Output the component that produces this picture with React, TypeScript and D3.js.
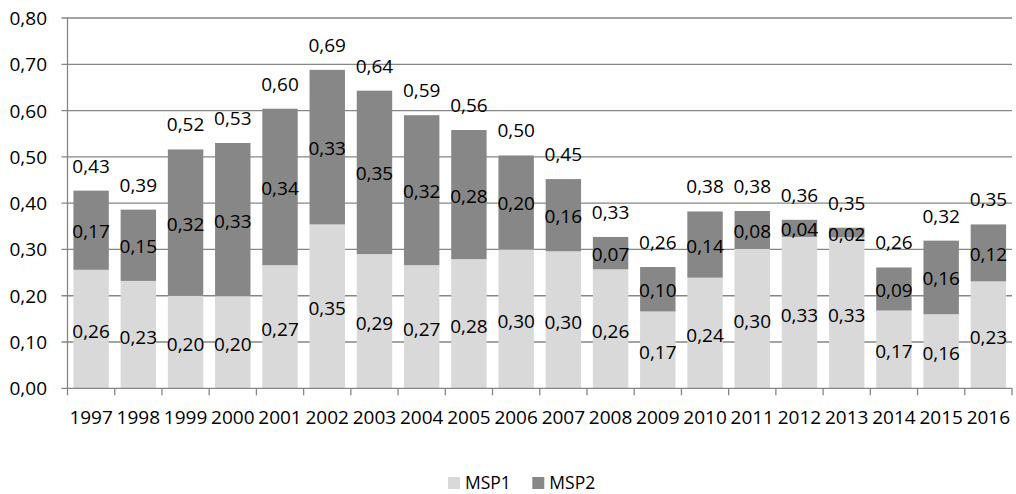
import React from "react";
import * as d3 from "d3";

const years = [
  "1997", "1998", "1999", "2000", "2001", "2002", "2003", "2004", "2005", "2006",
  "2007", "2008", "2009", "2010", "2011", "2012", "2013", "2014", "2015", "2016",
];
const msp1 = [
  0.256, 0.232, 0.2, 0.199, 0.266, 0.354, 0.29, 0.266, 0.279, 0.3,
  0.296, 0.257, 0.166, 0.239, 0.301, 0.327, 0.326, 0.168, 0.16, 0.231,
];
const msp2 = [
  0.171, 0.154, 0.316, 0.331, 0.338, 0.334, 0.353, 0.324, 0.279, 0.203,
  0.156, 0.07, 0.096, 0.143, 0.082, 0.037, 0.021, 0.093, 0.159, 0.123,
];
const yTicks = [0, 0.1, 0.2, 0.3, 0.4, 0.5, 0.6, 0.7, 0.8];
const seriesNames = ["MSP1", "MSP2"];

const W = 1016;
const H = 494;
const FONT = "'Open Sans', sans-serif";
const FS = 19;
const C1 = "#d9d9d9";
const C2 = "#878787";
const GRID = "#868686";

const fmt = (v: number) => d3.format(".2f")(v).replace(".", ",");

export default function App() {
  const x = d3
    .scaleBand<string>()
    .domain(years)
    .range([67.5, 1012])
    .paddingInner(0.25)
    .paddingOuter(0.125);
  const y = d3.scaleLinear().domain([0, 0.8]).range([388.3, 18]);
  const step = x.step();
  const x0 = 67.5;

  const rows = years.map((yr, i) => ({
    yr,
    a: msp1[i],
    b: msp2[i],
    total: msp1[i] + msp2[i],
  }));

  return (
    <svg
      width={W}
      height={H}
      style={{ position: "absolute", left: 0, top: 0, background: "#fff" }}
      fontFamily={FONT}
    >
      {/* horizontal gridlines with outward tick stubs */}
      {yTicks.map((t) => (
        <g key={t}>
          {t > 0 && (
            <line x1={61.5} x2={1012} y1={y(t)} y2={y(t)} stroke={GRID} strokeWidth={1.3} />
          )}
          <text
            x={47}
            y={y(t)}
            textAnchor="end"
            dominantBaseline="central"
            fontSize={FS}
            fill="#000"
          >
            {fmt(t)}
          </text>
        </g>
      ))}

      {/* bars */}
      {rows.map((r) => (
        <g key={r.yr}>
          <rect
            x={x(r.yr)}
            width={x.bandwidth()}
            y={y(r.a)}
            height={y(0) - y(r.a)}
            fill={C1}
          />
          <rect
            x={x(r.yr)}
            width={x.bandwidth()}
            y={y(r.total)}
            height={y(r.a) - y(r.total)}
            fill={C2}
          />
        </g>
      ))}

      {/* axes */}
      <line x1={x0} x2={x0} y1={18} y2={388.3} stroke={GRID} strokeWidth={1.3} />
      <line x1={61.5} x2={1012} y1={y(0)} y2={y(0)} stroke={GRID} strokeWidth={1.3} />
      {d3.range(years.length + 1).map((i) => (
        <line
          key={i}
          x1={x0 + i * step}
          x2={x0 + i * step}
          y1={y(0)}
          y2={y(0) + 7}
          stroke={GRID}
          strokeWidth={1.3}
        />
      ))}
      {years.map((yr) => (
        <text
          key={yr}
          x={(x(yr) as number) + x.bandwidth() / 2}
          y={416.7}
          textAnchor="middle"
          dominantBaseline="central"
          fontSize={FS}
        >
          {yr}
        </text>
      ))}

      {/* data labels */}
      {rows.map((r) => {
        const cx = (x(r.yr) as number) + x.bandwidth() / 2;
        return (
          <g key={r.yr} fontSize={FS} textAnchor="middle" dominantBaseline="central">
            <text x={cx} y={(y(0) + y(r.a)) / 2 + 2}>{fmt(r.a)}</text>
            <text x={cx} y={(y(r.a) + y(r.total)) / 2 + 1}>{fmt(r.b)}</text>
            <text x={cx} y={y(r.total) - 25}>{fmt(r.total)}</text>
          </g>
        );
      })}

      {/* legend */}
      {seriesNames.map((name, i) => {
        const lx = i === 0 ? 448 : 532.3;
        return (
          <g key={name}>
            <rect x={lx} y={477} width={12} height={12} fill={i === 0 ? C1 : C2} />
            <text x={lx + 17} y={489} fontSize={17.5}>
              {name}
            </text>
          </g>
        );
      })}
    </svg>
  );
}
